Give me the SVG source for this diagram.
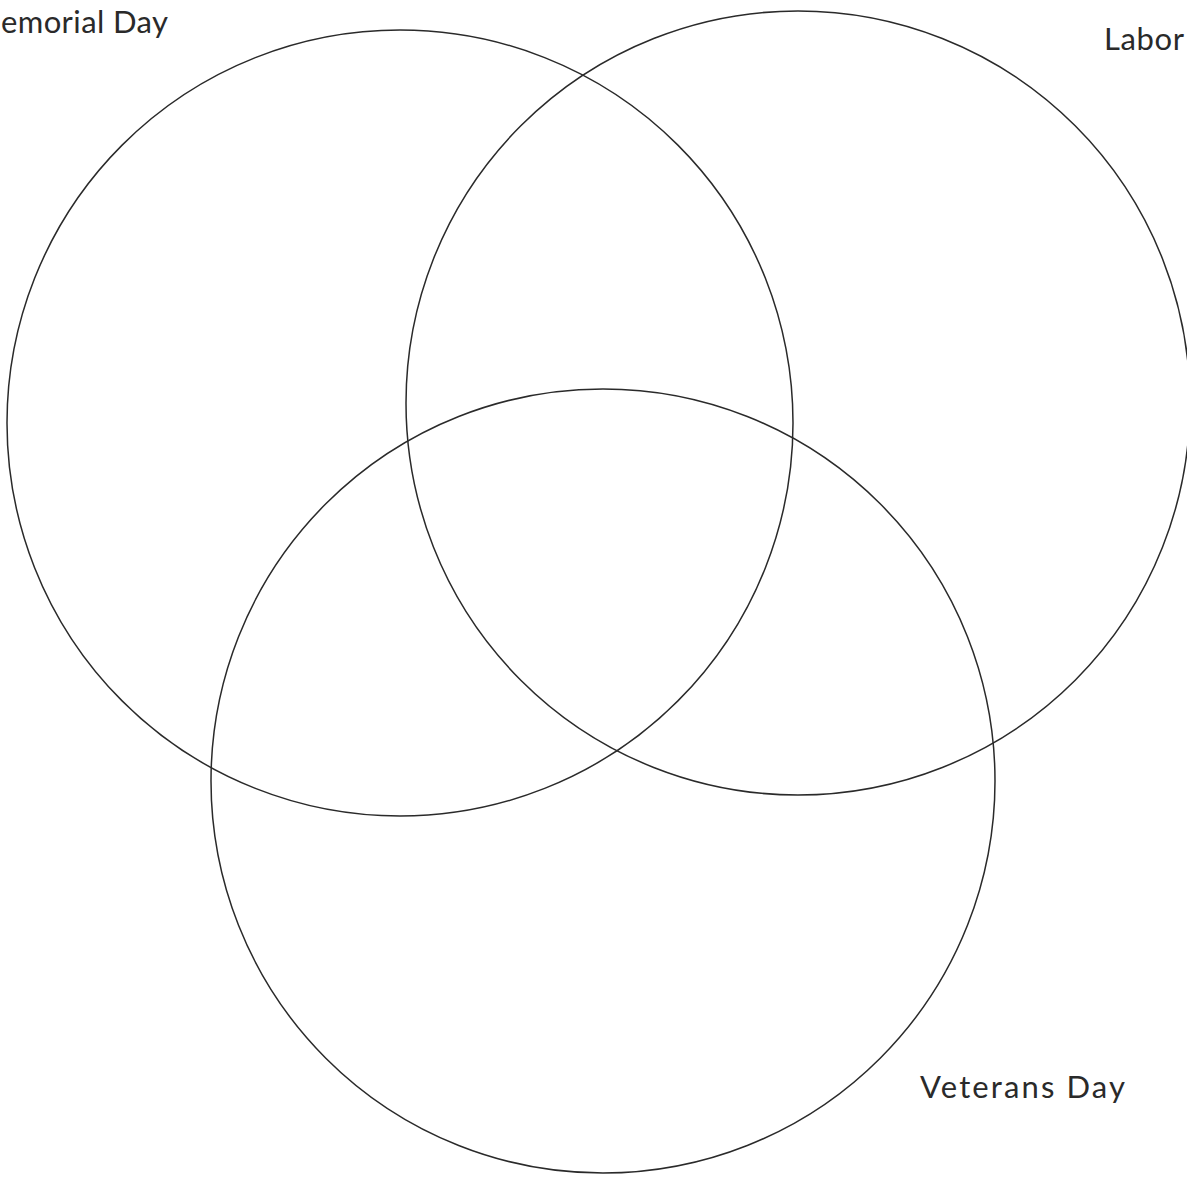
<svg xmlns="http://www.w3.org/2000/svg" width="1187" height="1180" viewBox="0 0 1187 1180">
<style>
.c{fill:none;stroke:#2a2a2a;stroke-width:1.5}
.t{font-family:Lato,"Noto Sans",sans-serif;font-size:31px;fill:#2a2a2a}
</style>
<rect width="1187" height="1180" fill="#fff"/>
<g id="memorial"><circle class="c" cx="400" cy="423" r="393"/><text class="t" x="1" y="33" textLength="167" lengthAdjust="spacing">emorial Day</text></g>
<g id="labor"><circle class="c" cx="798" cy="403" r="392"/><text class="t" x="1104" y="50" textLength="80" lengthAdjust="spacing">Labor</text></g>
<g id="veterans"><circle class="c" cx="603" cy="781" r="392"/><text class="t" x="920" y="1098" textLength="205" lengthAdjust="spacing">Veterans Day</text></g>
<g id="connectors"/>
</svg>
